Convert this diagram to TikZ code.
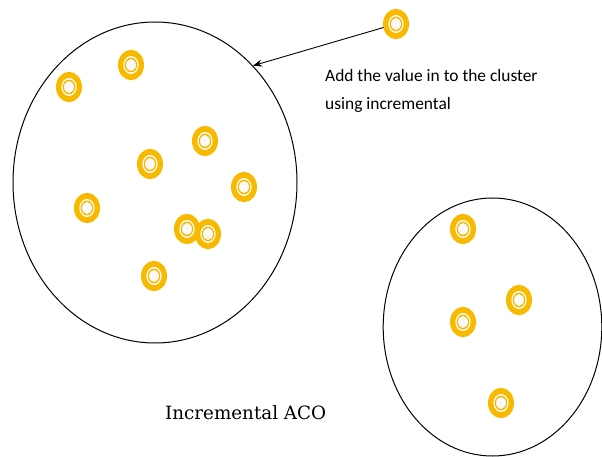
\documentclass[tikz,border=0pt]{standalone}
\usepackage{fontspec}
\setmainfont{DejaVu Serif}
\newfontfamily\calib{Carlito}
\usetikzlibrary{arrows.meta,shapes.geometric}
\definecolor{gold}{RGB}{248,186,0}
\tikzset{
  cluster/.style={draw=black, line width=1pt},
  conn/.style={draw=black, line width=0.9pt, -{Stealth[length=9pt,width=7pt]}},
  note/.style={anchor=base west, inner sep=0pt, font=\calib\fontsize{17.4}{20}\selectfont},
  pic dot/.pic={
    \fill[gold] (0,0) ellipse [x radius=13, y radius=15.2];
    \fill[white] (0,0) ellipse [x radius=7.6, y radius=9];
    \fill[gold] (0,0) ellipse [x radius=6.3, y radius=7.5];
    \fill[white!95!gray] (0,0) ellipse [x radius=4.9, y radius=6];
  },
}
\begin{document}
\begin{tikzpicture}[x=1pt,y=-1pt]
\useasboundingbox (0,0) rectangle (602,457);
\node[cluster, ellipse, minimum width=284pt, minimum height=321pt, inner sep=0pt] (c1) at (155,182.5) {};
\node[cluster, ellipse, minimum width=218.6pt, minimum height=258pt, inner sep=0pt] (c2) at (492.5,327) {};
\foreach \n/\x/\y in {new/396/24, a/131/65, b/69/87, c/205/141, d/150/164, e/244/187, f/87/208, g/187/229, h/208/234, i/154/276, j/463/229, k/519/300, l/463/322, m/501/403}{
  \pic (\n) at (\x,\y) {pic dot};
  \coordinate (p\n) at (\x,\y);
}
\draw[conn] (pnew) ++(-12.5,3.5) -- (c1.50);
\node[note] (t1) at (325,82) {Add the value in to the cluster};
\node[note] (t2) at (325,110) {using incremental};
\node[anchor=base west, inner sep=0pt, font=\fontsize{18.3}{22}\selectfont] (t3) at (165,419) {Incremental ACO};
\end{tikzpicture}
\end{document}
